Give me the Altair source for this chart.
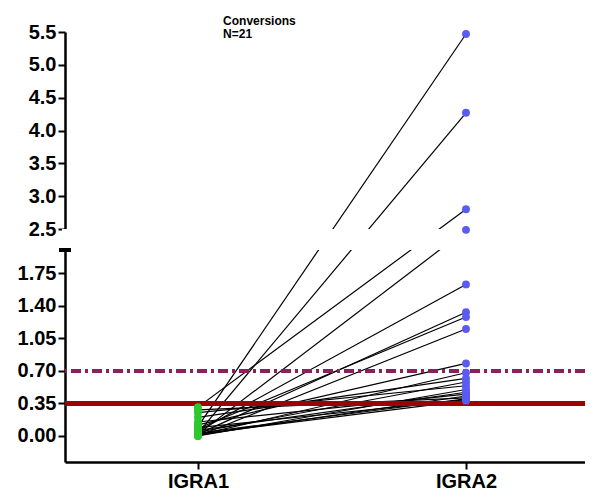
import altair as alt
import pandas as pd

# ---- data ----
igra1_values = [0.10, 0.03, 0.31, 0.02, 0.05, 0.02, 0.08, 0.00, 0.12, 0.01, 0.20,
                0.04, 0.25, 0.00, 0.06, 0.15, 0.01, 0.28, 0.03, 0.09, 0.02]
igra2_values = [5.47, 4.27, 2.80, 2.48, 1.63, 1.33, 1.28, 1.15, 0.78, 0.68, 0.62,
                0.58, 0.54, 0.50, 0.47, 0.45, 0.43, 0.41, 0.40, 0.39, 0.38]
groups = ["IGRA1", "IGRA2"]
y_ticks = [0.0, 0.35, 0.70, 1.05, 1.40, 1.75, 2.5, 3.0, 3.5, 4.0, 4.5, 5.0, 5.5]
cutoff_main = 0.35
cutoff_alt = 0.70
break_low, break_high = 2.0, 2.5

rows = []
for i, (a, b) in enumerate(zip(igra1_values, igra2_values)):
    rows.append({"id": i, "pos": 1, "group": groups[0], "value": a})
    rows.append({"id": i, "pos": 2, "group": groups[1], "value": b})
df = pd.DataFrame(rows)

W, H = 520, 430
yscale = alt.Scale(domain=[-0.28, break_low, break_high, 5.5],
                   range=[H, 218, 197, 0], nice=False, zero=False)
xscale = alt.Scale(domain=[0.504, 2.444], nice=False, zero=False)

font = "Liberation Sans"
xaxis = alt.Axis(values=[1, 2], labelExpr="datum.value == 1 ? 'IGRA1' : 'IGRA2'",
                 title=None, labelFontSize=20, tickCount=10)
yaxis = alt.Axis(values=y_ticks,
                 labelExpr="datum.value >= 2.5 ? format(datum.value, '.1f') : format(datum.value, '.2f')",
                 title=None, labelFontSize=20, tickCount=40)

base = alt.Chart(df)

lines = base.mark_line(color="black", strokeWidth=1.2, clip=True).encode(
    x=alt.X("pos:Q", scale=xscale, axis=xaxis),
    y=alt.Y("value:Q", scale=yscale, axis=yaxis),
    detail="id:N",
)

rule_main = alt.Chart(df).mark_rule(color="#a00000", strokeWidth=3.5).encode(
    y=alt.datum(cutoff_main)
)
rule_alt = alt.Chart(df).mark_rule(color="#8e1f5e", strokeWidth=2.5,
                                   strokeDash=[10, 4, 3, 4]).encode(
    y=alt.datum(cutoff_alt)
)

gap = alt.Chart(df).mark_rect(color="white").encode(
    y=alt.datum(break_low), y2=alt.datum(break_high),
    x=alt.value(-3), x2=alt.value(W + 20),
)
cap = alt.Chart(df).mark_rule(color="black", strokeWidth=2.5).encode(
    y=alt.datum(break_low), x=alt.value(-6), x2=alt.value(6)
)

points = base.mark_circle(size=62, opacity=1).encode(
    x=alt.X("pos:Q"),
    y=alt.Y("value:Q"),
    color=alt.Color("group:N", scale=alt.Scale(domain=groups, range=["#2ec82e", "#5b5bf0"]),
                    legend=None),
)

chart = alt.layer(lines, rule_alt, rule_main, gap, cap, points).properties(
    width=W, height=H,
    title=alt.TitleParams(["Conversions", "N=21"], anchor="start", dx=206,
                          fontSize=12, fontWeight="bold", font=font, color="black",
                          offset=-19, lineHeight=13),
    autosize=alt.AutoSizeParams(type="none"),
    padding={"left": 57, "top": 24, "right": 0, "bottom": 30},
).configure(background="white").configure_view(stroke=None).configure_axis(
    labelOverlap=False, labelBound=False, grid=False, labelFont=font,
    labelFontWeight="bold", labelColor="black", domainColor="black",
    domainWidth=2.5, tickColor="black", tickWidth=2, tickSize=7, labelPadding=2,
)

chart.save("out.html", embed_options={"renderer": "svg", "actions": False})
